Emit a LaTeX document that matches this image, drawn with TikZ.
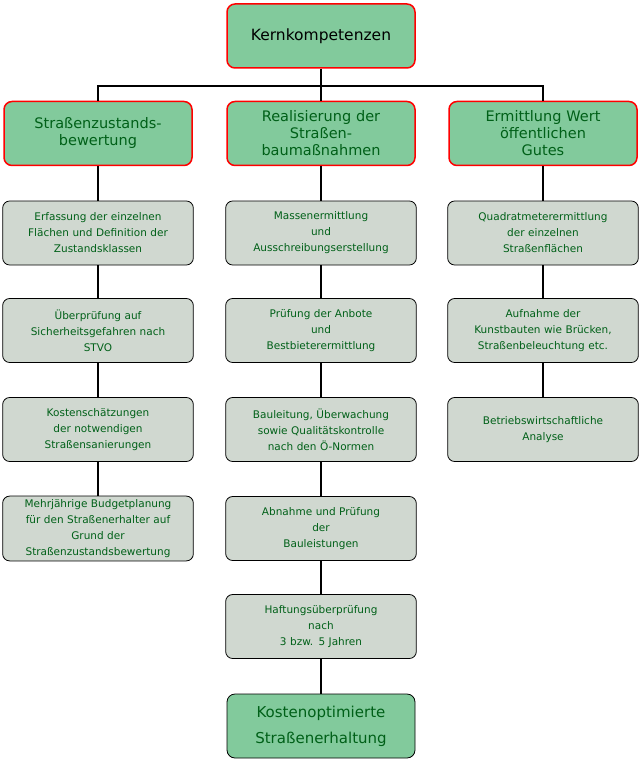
\documentclass[tikz,border=0pt]{standalone}
\usepackage{fontspec}
\setmainfont{DejaVu Sans}
\definecolor{headgreen}{RGB}{130,202,156}
\definecolor{taskgrey}{RGB}{208,216,208}
\definecolor{textgreen}{RGB}{0,96,24}
\tikzset{
  head/.style={draw=red, line width=1.5pt, fill=headgreen, rounded corners=8pt,
    minimum width=188pt, minimum height=64pt, text width=180pt, align=center,
    text=textgreen, font=\fontsize{14.5}{17}\selectfont},
  task/.style={draw=black, line width=0.8pt, fill=taskgrey, rounded corners=7pt,
    minimum width=188pt, minimum height=64pt, text width=184pt, align=center,
    text=textgreen, font=\fontsize{10.5}{16}\selectfont},
  link/.style={line width=2.5pt}
}
\begin{document}
\begin{tikzpicture}[x=1pt,y=-1pt]
    \useasboundingbox (0,0) rectangle (642,762);

    % top
    \node[head, font=\fontsize{15.5}{18}\selectfont, text=black] (kern) at (321,36) {Kernkompetenzen};

    % headers
    \node[head] (zust) at (98,133.5) {Straßenzustands-\\bewertung};
    \node[head] (real) at (321,133.5) {Realisierung der\\Straßen-\\baumaßnahmen};
    \node[head] (wert) at (543,133.5) {Ermittlung Wert\\öffentlichen\\Gutes};

    % left column
    \node[task] (l1) at (98,233) {Erfassung der einzelnen\\Flächen und Definition der\\Zustandsklassen};
    \node[task] (l2) at (98,330.5) {Überprüfung auf\\Sicherheitsgefahren nach\\STVO};
    \node[task] (l3) at (98,429.5) {Kostenschätzungen\\der notwendigen\\Straßensanierungen};
    \node[task] (l4) at (98,528.5) {Mehrjährige Budgetplanung\\für den Straßenerhalter auf\\Grund der\\Straßenzustandsbewertung};

    % centre column
    \node[task] (c1) at (321,233) {Massenermittlung\\und\\Ausschreibungserstellung};
    \node[task] (c2) at (321,330.5) {Prüfung der Anbote\\und\\Bestbieterermittlung};
    \node[task] (c3) at (321,429.5) {Bauleitung, Überwachung\\sowie Qualitätskontrolle\\nach den Ö-Normen};
    \node[task] (c4) at (321,528.5) {Abnahme und Prüfung\\der\\Bauleistungen};
    \node[task] (c5) at (321,626.5) {Haftungsüberprüfung\\nach\\3 bzw. 5 Jahren};
    \node[head, draw=black, line width=0.8pt, font=\fontsize{15}{26}\selectfont] (ziel) at (321,726) {Kostenoptimierte\\Straßenerhaltung};

    % right column
    \node[task] (r1) at (543,233) {Quadratmeterermittlung\\der einzelnen\\Straßenflächen};
    \node[task] (r2) at (543,330.5) {Aufnahme der\\Kunstbauten wie Brücken,\\Straßenbeleuchtung etc.};
    \node[task] (r3) at (543,429.5) {Betriebswirtschaftliche\\Analyse};

    % connectors
    \coordinate (bus) at (321,86);
    \draw[link] (kern) -- (bus);
    \draw[link] (zust.north) |- (bus) -| (wert.north);
    \draw[link] (bus) -- (real);
    \draw[link] (zust) -- (l1) (l1) -- (l2) (l2) -- (l3) (l3) -- (l4);
    \draw[link] (real) -- (c1) (c1) -- (c2) (c2) -- (c3) (c3) -- (c4) (c4) -- (c5) (c5) -- (ziel);
    \draw[link] (wert) -- (r1) (r1) -- (r2) (r2) -- (r3);
\end{tikzpicture}
\end{document}
